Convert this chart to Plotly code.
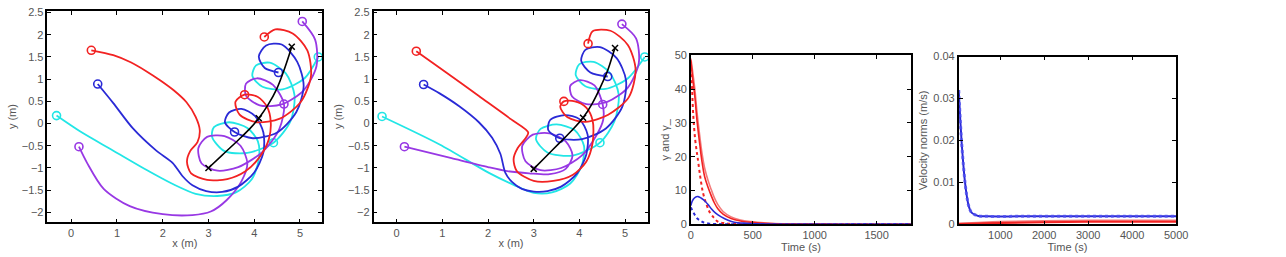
import plotly.graph_objects as go

# ---------------- Panel 1 (trajectories) ----------------
p1_black_x = [3.0, 3.3, 3.6, 3.9, 4.1, 4.3, 4.5, 4.65, 4.78, 4.82]
p1_black_y = [-1.0, -0.71, -0.42, -0.12, 0.12, 0.42, 0.8, 1.2, 1.6, 1.73]
p1_black_mark_x = [3.0, 4.1, 4.82]
p1_black_mark_y = [-1.0, 0.12, 1.73]

p1_red_x = [0.44, 0.92, 1.30, 1.64, 1.95, 2.24, 2.52, 2.72, 2.81, 2.76, 2.60, 2.53, 2.62, 2.97, 3.41, 3.80, 4.12, 4.32, 4.36,
            4.28, 4.08, 3.79,
            3.59, 3.68, 4.05, 4.56, 5.02, 5.24, 5.16, 4.84, 4.46, 4.22]
p1_red_y = [1.65, 1.54, 1.38, 1.18, 0.97, 0.75, 0.48, 0.15, -0.15, -0.42, -0.62, -0.86, -1.12, -1.27, -1.25, -1.08, -0.75, -0.35, 0.05,
            0.38, 0.60, 0.65,
            0.49, 0.20, 0.03, 0.11, 0.49, 1.07, 1.65, 2.03, 2.12, 1.95]
p1_red_marks = [0, 21, 31]

p1_blue_x = [0.58, 0.92, 1.35, 1.86, 2.22, 2.43, 2.65, 2.95, 3.30, 3.65, 4.00, 4.20, 4.20, 4.02, 3.72, 3.45, 3.36, 3.57,
             3.97, 4.50, 4.92, 5.08, 4.94, 4.60, 4.26, 4.10, 4.23, 4.53]
p1_blue_y = [0.89, 0.46, -0.11, -0.61, -0.89, -1.18, -1.39, -1.52, -1.54, -1.42, -1.10, -0.65, -0.20, 0.17, 0.33, 0.25, 0.03, -0.19,
             -0.33, -0.20, 0.26, 0.85, 1.39, 1.78, 1.76, 1.51, 1.25, 1.15]
p1_blue_marks = [0, 17, 27]

p1_cyan_x = [-0.32, 0.20, 0.92, 1.64, 2.22, 2.72, 3.19, 3.60, 3.95, 4.10, 4.08, 3.85, 3.45, 3.12, 3.08, 3.35, 3.85, 4.42,
             4.79, 4.88, 4.69, 4.34, 4.04, 3.96, 4.18, 4.62, 5.10, 5.40]
p1_cyan_y = [0.18, -0.18, -0.61, -1.04, -1.36, -1.58, -1.63, -1.55, -1.25, -0.80, -0.40, -0.10, 0.03, -0.08, -0.30, -0.62, -0.66, -0.43,
             0.05, 0.64, 1.13, 1.37, 1.31, 1.07, 0.83, 0.77, 1.02, 1.50]
p1_cyan_marks = [0, 17, 27]

p1_purple_x = [0.17, 0.35, 0.71, 1.28, 2.00, 2.65, 3.05, 3.40, 3.72, 3.85, 3.70, 3.35, 2.97, 2.78, 2.85, 3.20, 3.65, 4.20, 4.55, 4.65,
               4.41, 4.06, 3.82, 3.82, 4.12, 4.60, 5.08, 5.36, 5.33, 5.05]
p1_purple_y = [-0.52, -0.89, -1.47, -1.86, -2.04, -2.06, -1.98, -1.72, -1.30, -0.90, -0.50, -0.28, -0.30, -0.55, -0.90, -1.06, -0.98, -0.62, -0.12, 0.44,
               0.87, 1.02, 0.90, 0.63, 0.41, 0.43, 0.75, 1.29, 1.89, 2.30]
p1_purple_marks = [0, 19, 29]

# ---------------- Panel 2 (trajectories) ----------------
p2_black_x = [3.0, 3.28, 3.56, 3.84, 4.08, 4.28, 4.46, 4.62, 4.74, 4.78]
p2_black_y = [-1.02, -0.73, -0.44, -0.15, 0.13, 0.45, 0.82, 1.2, 1.58, 1.70]
p2_black_mark_x = [3.0, 4.08, 4.78]
p2_black_mark_y = [-1.02, 0.13, 1.70]

p2_red_x = [0.43, 1.10, 1.80, 2.50, 2.88, 2.80, 2.65, 2.56, 2.63, 3.00, 3.43, 3.86, 4.15, 4.29, 4.29, 4.15, 3.90, 3.66,
            3.58, 3.74, 4.14, 4.63, 5.08, 5.23, 5.06, 4.68, 4.29, 4.19]
p2_red_y = [1.63, 1.14, 0.62, 0.10, -0.20, -0.36, -0.55, -0.80, -1.07, -1.29, -1.29, -1.15, -0.86, -0.43, 0.07, 0.36, 0.50, 0.50,
            0.38, 0.14, 0.04, 0.20, 0.59, 1.21, 1.77, 2.09, 2.08, 1.80]
p2_red_marks = [0, 17, 27]

p2_blue_x = [0.59, 0.94, 1.37, 1.80, 2.09, 2.27, 2.38, 2.53, 2.74, 3.00, 3.30, 3.60, 3.95, 4.15, 4.18, 4.00, 3.68, 3.36, 3.32, 3.57,
             4.06, 4.58, 4.94, 5.02, 4.81, 4.45, 4.13, 4.04, 4.24, 4.62]
p2_blue_y = [0.88, 0.68, 0.39, 0.03, -0.32, -0.68, -1.11, -1.32, -1.47, -1.53, -1.52, -1.42, -1.12, -0.70, -0.25, 0.10, 0.19, 0.08, -0.15, -0.33,
             -0.35, -0.11, 0.38, 0.98, 1.48, 1.72, 1.66, 1.41, 1.15, 1.06]
p2_blue_marks = [0, 19, 29]

p2_cyan_x = [-0.32, 0.94, 2.02, 2.56, 3.00, 3.40, 3.80, 4.05, 4.10, 3.90, 3.50, 3.15, 3.05, 3.30, 3.85, 4.45,
             4.77, 4.86, 4.66, 4.31, 4.00, 3.92, 4.13, 4.57, 5.05, 5.43]
p2_cyan_y = [0.16, -0.47, -1.11, -1.38, -1.56, -1.55, -1.35, -0.95, -0.50, -0.15, -0.02, -0.12, -0.35, -0.65, -0.72, -0.43,
             0.06, 0.66, 1.15, 1.39, 1.34, 1.09, 0.84, 0.78, 1.01, 1.50]
p2_cyan_marks = [0, 15, 25]

p2_purple_x = [0.17, 1.20, 2.00, 2.42, 2.90, 3.35, 3.70, 3.85, 3.70, 3.35, 2.98, 2.75, 2.82, 3.15, 3.60, 4.05, 4.38, 4.52, 4.51,
               4.33, 4.01, 3.80, 3.84, 4.15, 4.61, 5.06, 5.30, 5.24, 4.93]
p2_purple_y = [-0.52, -0.78, -0.98, -1.07, -1.12, -1.14, -1.02, -0.72, -0.40, -0.22, -0.25, -0.50, -0.85, -1.05, -1.00, -0.72, -0.25, 0.08, 0.43,
               0.86, 0.98, 0.85, 0.61, 0.44, 0.49, 0.81, 1.36, 1.92, 2.24]
p2_purple_marks = [0, 18, 28]

# ---------------- Panel 3 (gamma) ----------------
g_red_t = [0, 15, 32, 50, 72, 90, 112, 140, 165, 190, 218, 260, 325, 400, 485, 600, 800, 1100, 1400, 1780]
g_red_v = [48.5, 43, 37.8, 30.5, 23.6, 18.5, 14.0, 10.8, 8.4, 6.3, 4.6, 3.0, 1.7, 1.0, 0.6, 0.3, 0.1, 0.05, 0.02, 0.01]
g_red2_v = [49, 45, 40, 33, 26, 21, 16.5, 12.8, 10.2, 7.8, 5.8, 3.8, 2.2, 1.3, 0.8, 0.4, 0.15, 0.05, 0.02, 0.01]
g_redd_t = [0, 10, 18, 35, 58, 78, 98, 125, 152, 185, 218, 280, 350, 500, 1780]
g_redd_v = [48, 40, 33, 25, 18.8, 13.5, 9.3, 6.0, 3.6, 2.0, 0.8, 0.3, 0.1, 0.02, 0]
g_blue_t = [0, 10, 32, 58, 85, 112, 140, 165, 200, 245, 300, 350, 450, 600, 1780]
g_blue_v = [5.5, 6.8, 7.9, 8.2, 7.7, 6.9, 5.8, 4.6, 3.3, 2.2, 1.2, 0.6, 0.3, 0.1, 0.0]
g_blued_t = [0, 10, 20, 35, 50, 75, 100, 150, 200, 300, 1780]
g_blued_v = [5.0, 4.2, 3.5, 2.6, 1.8, 1.1, 0.6, 0.2, 0.1, 0.02, 0]

# ---------------- Panel 4 (velocity norms) ----------------
v_blue_t = [55, 90, 124, 160, 198, 235, 274, 310, 348, 420, 499, 700, 1500, 2500, 3500, 5000]
v_blue_v = [0.032, 0.025, 0.0191, 0.0142, 0.0100, 0.0070, 0.0047, 0.0035, 0.0028, 0.0023, 0.0020, 0.0019, 0.0019, 0.0019, 0.0019, 0.0019]
v_red_t = [55, 500, 1000, 2000, 3000, 4000, 5000]
v_red_v = [0.0001, 0.0002, 0.0003, 0.0005, 0.0006, 0.0006, 0.0006]
v_red2_v = [0.0002, 0.0004, 0.0006, 0.0008, 0.0009, 0.0009, 0.0009]

RED = '#f22222'
BLUE = '#2a2ad6'
CYAN = '#22e6e6'
PURPLE = '#9838e4'

fig = go.Figure()


def traj(xs, ys, color, ax, marks):
    xa, ya = ax
    fig.add_trace(go.Scatter(x=xs, y=ys, mode='lines', line=dict(color=color, width=1.8, shape='spline', smoothing=0.8),
                             xaxis=xa, yaxis=ya, showlegend=False, hoverinfo='skip'))
    fig.add_trace(go.Scatter(x=[xs[i] for i in marks], y=[ys[i] for i in marks], mode='markers',
                             marker=dict(symbol='circle-open', size=8, color=color, line=dict(width=1.6)),
                             xaxis=xa, yaxis=ya, showlegend=False, hoverinfo='skip'))


def black(xs, ys, mx, my, ax):
    xa, ya = ax
    fig.add_trace(go.Scatter(x=xs, y=ys, mode='lines', line=dict(color='black', width=1.6, shape='spline'),
                             xaxis=xa, yaxis=ya, showlegend=False, hoverinfo='skip'))
    fig.add_trace(go.Scatter(x=mx, y=my, mode='markers',
                             marker=dict(symbol='x-thin-open', size=6, color='black', line=dict(width=1.5)),
                             xaxis=xa, yaxis=ya, showlegend=False, hoverinfo='skip'))


ax1 = ('x', 'y')
traj(p1_cyan_x, p1_cyan_y, CYAN, ax1, p1_cyan_marks)
traj(p1_purple_x, p1_purple_y, PURPLE, ax1, p1_purple_marks)
traj(p1_blue_x, p1_blue_y, BLUE, ax1, p1_blue_marks)
traj(p1_red_x, p1_red_y, RED, ax1, p1_red_marks)
black(p1_black_x, p1_black_y, p1_black_mark_x, p1_black_mark_y, ax1)

ax2 = ('x2', 'y2')
traj(p2_cyan_x, p2_cyan_y, CYAN, ax2, p2_cyan_marks)
traj(p2_purple_x, p2_purple_y, PURPLE, ax2, p2_purple_marks)
traj(p2_blue_x, p2_blue_y, BLUE, ax2, p2_blue_marks)
traj(p2_red_x, p2_red_y, RED, ax2, p2_red_marks)
black(p2_black_x, p2_black_y, p2_black_mark_x, p2_black_mark_y, ax2)


def curve(t, v, color, dash, ax, width=1.6):
    fig.add_trace(go.Scatter(x=t, y=v, mode='lines', line=dict(color=color, width=width, dash=dash, shape='spline'),
                             xaxis=ax[0], yaxis=ax[1], showlegend=False, hoverinfo='skip'))


ax3 = ('x3', 'y3')
curve(g_red_t, g_red2_v, 'rgba(240,90,90,0.8)', 'solid', ax3)
curve(g_red_t, g_red_v, RED, 'solid', ax3)
curve(g_redd_t, g_redd_v, RED, 'dot', ax3, 2)
curve(g_blue_t, g_blue_v, BLUE, 'solid', ax3)
curve(g_blued_t, g_blued_v, BLUE, 'dot', ax3, 2)

ax4 = ('x4', 'y4')
curve(v_red_t, v_red2_v, 'rgba(240,90,90,0.8)', 'solid', ax4, 2)
curve(v_red_t, v_red_v, RED, 'solid', ax4, 2)
curve(v_blue_t, v_blue_v, BLUE, 'solid', ax4, 2)
curve(v_blue_t, v_blue_v, 'rgba(80,80,240,0.8)', 'dot', ax4, 3)

FONT = dict(family='Liberation Sans, Arial, sans-serif', size=11, color='#555')
common = dict(showline=True, linecolor='black', linewidth=1.6, mirror='ticks', ticks='inside', ticklen=4,
              tickcolor='black', tickwidth=1, showgrid=False, zeroline=False, tickfont=FONT,
              title_font=FONT)

H = 257.0
W = 1286.0


def yd(top, bottom):
    return [1 - bottom / H, 1 - top / H]


fig.update_layout(
    width=1286, height=257, margin=dict(l=0, r=0, t=0, b=0),
    paper_bgcolor='white', plot_bgcolor='white', showlegend=False,
    xaxis=dict(domain=[45 / W, 323 / W], range=[-0.518, 5.486], tickvals=[0, 1, 2, 3, 4, 5],
               title=dict(text='x (m)', standoff=1), anchor='y', **common),
    yaxis=dict(domain=yd(5, 227), range=[-2.225, 2.54], tickvals=[-2, -1.5, -1, -0.5, 0, 0.5, 1, 1.5, 2, 2.5],
               title=dict(text='y (m)', standoff=3), anchor='x', **common),
    xaxis2=dict(domain=[375 / W, 653 / W], range=[-0.504, 5.51], tickvals=[0, 1, 2, 3, 4, 5],
                title=dict(text='x (m)', standoff=1), anchor='y2', **common),
    yaxis2=dict(domain=yd(5, 227), range=[-2.225, 2.54], tickvals=[-2, -1.5, -1, -0.5, 0, 0.5, 1, 1.5, 2, 2.5],
                title=dict(text='y (m)', standoff=3), anchor='x2', **common),
    xaxis3=dict(domain=[696 / W, 919 / W], range=[0, 1780], tickvals=[0, 500, 1000, 1500],
                title=dict(text='Time (s)', standoff=0), anchor='y3', **common),
    yaxis3=dict(domain=yd(51.7, 229), range=[0, 50], tickvals=[0, 10, 20, 30, 40, 50],
                title=dict(text='γ and γ_', standoff=3), anchor='x3', **common),
    xaxis4=dict(domain=[967 / W, 1187 / W], range=[55, 5000], tickvals=[1000, 2000, 3000, 4000, 5000],
                title=dict(text='Time (s)', standoff=0), anchor='y4', **common),
    yaxis4=dict(domain=yd(53, 229), range=[0, 0.04], tickvals=[0, 0.01, 0.02, 0.03, 0.04],
                title=dict(text='Velocity norms (m/s)', standoff=3), anchor='x4', **common),
)

fig.write_html('out.html')
